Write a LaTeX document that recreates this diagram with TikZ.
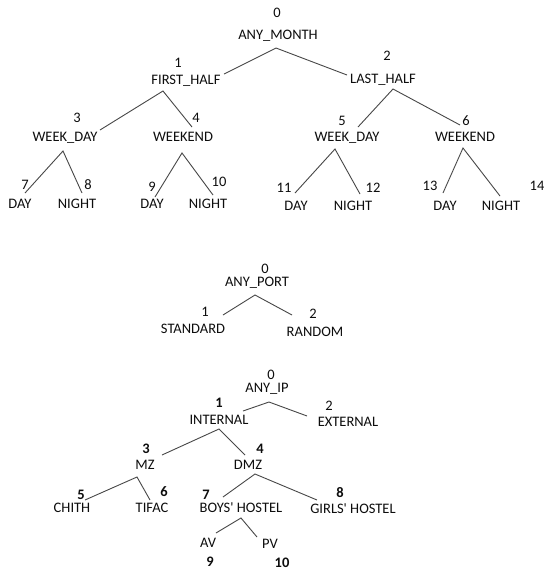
\documentclass[tikz,border=0pt]{standalone}
\usepackage{fontspec}
\setmainfont{Carlito}
\usetikzlibrary{calc}
\begin{document}
\begin{tikzpicture}[x=1pt,y=-1pt,
  every node/.style={inner sep=0pt,text=black!95,font=\fontsize{14.5}{17}\selectfont},
  lbl/.style={text height=9.4pt,text depth=0pt},
  num/.style={text height=9.4pt,text depth=0pt},
  bnum/.style={text height=9.4pt,text depth=0pt,font=\fontsize{14.5}{17}\selectfont\bfseries},
  edge/.style={draw=black!72,line width=0.9pt}]
\useasboundingbox[fill=white] (0,0) rectangle (544,571);
% ---------- tree 1
\node[num] (n0) at (277,13) {0};
\node[lbl] (am) at (278,35) {ANY\_MONTH};
\node[num] (n1) at (178,63) {1};
\node[lbl] (fh) at (186,80) {FIRST\_HALF};
\node[num] (n2) at (387,56) {2};
\node[lbl] (lh) at (383,79) {LAST\_HALF};
\node[num] (n3) at (77,118) {3};
\node[lbl] (wd1) at (65,137) {WEEK\_DAY};
\node[num] (n4) at (196,118) {4};
\node[lbl] (we1) at (183,137) {WEEKEND};
\node[num] (n5) at (342,121) {5};
\node[lbl] (wd2) at (347,137) {WEEK\_DAY};
\node[num] (n6) at (466,121) {6};
\node[lbl] (we2) at (465,137) {WEEKEND};
\node[num] (n7) at (25,185) {7};
\node[lbl] (d1) at (20,204) {DAY};
\node[num] (n8) at (88,185) {8};
\node[lbl] (nt1) at (77,204) {NIGHT};
\node[num] (n9) at (152,187) {9};
\node[lbl] (d2) at (152,204) {DAY};
\node[num] (n10) at (219,182) {10};
\node[lbl] (nt2) at (208,204) {NIGHT};
\node[num] (n11) at (284,188) {11};
\node[lbl] (d3) at (296,206) {DAY};
\node[num] (n12) at (373,188) {12};
\node[lbl] (nt3) at (353,206) {NIGHT};
\node[num] (n13) at (430,186) {13};
\node[lbl] (d4) at (445,206) {DAY};
\node[num] (n14) at (537,186) {14};
\node[lbl] (nt4) at (501,206) {NIGHT};
\draw[edge] ($(fh)+(38,-6)$) -- ($(am)+(-2,13)$) -- ($(lh)+(-36,-4)$);
\draw[edge] ($(wd1)+(35,-7)$) -- ($(fh)+(-23,11)$) -- ($(we1)+(9,-10)$);
\draw[edge] ($(wd2)+(11,-10)$) -- ($(lh)+(10,10)$) -- ($(we2)+(-5,-12)$);
\draw[edge] ($(d1)+(5,-11)$) -- ($(wd1)+(-2,14)$) -- ($(nt1)+(5,-11)$);
\draw[edge] ($(d2)+(3,-7)$) -- ($(we1)+(-1,16)$) -- ($(nt2)+(5,-9)$);
\draw[edge] ($(d3)+(-1,-13)$) -- ($(wd2)+(-12,12)$) -- ($(nt3)+(7,-12)$);
\draw[edge] ($(d4)+(-2,-13)$) -- ($(we2)+(-2,11)$) -- ($(nt4)+(-1,-10)$);
% ---------- tree 2
\node[num] (p0) at (265,269) {0};
\node[lbl] (ap) at (257,282) {ANY\_PORT};
\node[num] (p1) at (205,312) {1};
\node[lbl] (st) at (193,329) {STANDARD};
\node[num] (p2) at (313,314) {2};
\node[lbl] (rd) at (315,332) {RANDOM};
\draw[edge] ($(st)+(30,-14)$) -- ($(ap)+(-2,13)$) -- ($(rd)+(-23,-17)$);
% ---------- tree 3
\node[num] (i0) at (271,375) {0};
\node[lbl] (ai) at (267,388) {ANY\_IP};
\node[bnum] (i1) at (219,403) {1};
\node[lbl] (in) at (219,420) {INTERNAL};
\node[num] (i2) at (329,406) {2};
\node[lbl] (ex) at (348,422) {EXTERNAL};
\node[bnum] (i3) at (146,449) {3};
\node[lbl] (mz) at (145,465) {MZ};
\node[bnum] (i4) at (260,449) {4};
\node[lbl] (dmz) at (248,465) {DMZ};
\node[bnum] (i5) at (81,495) {5};
\node[lbl] (ch) at (72,508) {CHITH};
\node[bnum] (i6) at (164,492) {6};
\node[lbl] (tf) at (152,508) {TIFAC};
\node[bnum] (i7) at (206,495) {7};
\node[lbl] (bh) at (241,508) {BOYS\textquotesingle{} HOSTEL};
\node[bnum] (i8) at (340,493) {8};
\node[lbl] (gh) at (353,509) {GIRLS\textquotesingle{} HOSTEL};
\node[lbl] (av) at (208,543) {AV};
\node[lbl] (pv) at (270,544) {PV};
\node[bnum] (i9) at (210,562) {9};
\node[bnum] (i10) at (282,563) {10};
\draw[edge] ($(in)+(24,-9)$) -- ($(ai)+(2,14)$) -- ($(ex)+(-41,-6)$);
\draw[edge] ($(mz)+(17,-10)$) -- ($(in)+(0,9)$) -- ($(dmz)+(-3,-10)$);
\draw[edge] ($(ch)+(13,-8)$) -- ($(mz)+(-8,12)$) -- ($(tf)+(-2,-8)$);
\draw[edge] ($(bh)+(-18,-11)$) -- ($(dmz)+(7,9)$) -- ($(gh)+(-36,-9)$);
\draw[edge] ($(av)+(8,-10)$) -- ($(bh)+(0,10)$) -- ($(pv)+(-13,-7)$);
\end{tikzpicture}
\end{document}
